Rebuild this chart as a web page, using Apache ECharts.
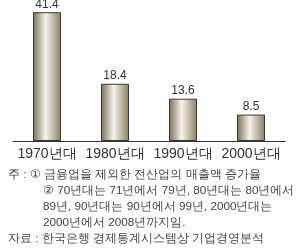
<!DOCTYPE html>
<html>
<head>
<meta charset="utf-8">
<script src="https://cdn.jsdelivr.net/npm/echarts@6/dist/echarts.min.js"></script>
<style>
  html, body { margin: 0; padding: 0; background: #fff; }
  #main { width: 304px; height: 252px; }
</style>
</head>
<body>
<div id="main"></div>
<script>
// 연대별 매출액 증가율
const categories = ['1970년대', '1980년대', '1990년대', '2000년대'];
const values = [41.4, 18.4, 13.6, 8.5];
const notes = [
  '주 : ① 금융업을 제외한 전산업의 매출액 증가율',
  '② 70년대는 71년에서 79년, 80년대는 80년에서',
  '89년, 90년대는 90년에서 99년, 2000년대는',
  '2000년에서 2008년까지임.',
  '자료 : 한국은행 경제통계시스템상 기업경영분석'
];

var chartDom = document.getElementById('main');
var myChart = echarts.init(chartDom);
var font = 'sans-serif';

var barColor = new echarts.graphic.LinearGradient(0, 0, 1, 0, [
  { offset: 0, color: '#7a6f52' },
  { offset: 0.45, color: '#f6f4ec' },
  { offset: 1, color: '#8a7f5f' }
]);

var noteStyle = function (text) {
  return { text: text, fontSize: 11.7, fontFamily: font, fill: '#444' };
};

var option = {
  animation: false,
  grid: { left: 13, right: 19, top: 1, bottom: 111 },
  xAxis: {
    type: 'category',
    data: categories,
    axisLine: { lineStyle: { color: '#333', width: 1 } },
    axisTick: { show: false },
    axisLabel: { interval: 0, color: '#333', fontSize: 14, fontFamily: font, margin: 6 }
  },
  yAxis: {
    type: 'value',
    min: 0,
    max: 45,
    show: false
  },
  series: [
    {
      type: 'bar',
      data: values,
      barWidth: 28,
      itemStyle: { color: barColor, borderColor: '#3a382e', borderWidth: 1 },
      label: {
        show: true,
        position: 'top',
        distance: 2,
        color: '#333',
        fontSize: 12,
        fontFamily: font
      }
    }
  ],
  graphic: [
    { type: 'text', left: 8, top: 169, style: noteStyle(notes[0]) },
    { type: 'text', left: 43, top: 185, style: noteStyle(notes[1]) },
    { type: 'text', left: 43, top: 201, style: noteStyle(notes[2]) },
    { type: 'text', left: 43, top: 217, style: noteStyle(notes[3]) },
    { type: 'text', left: 8, top: 233, style: noteStyle(notes[4]) }
  ]
};

option && myChart.setOption(option);
</script>
</body>
</html>
